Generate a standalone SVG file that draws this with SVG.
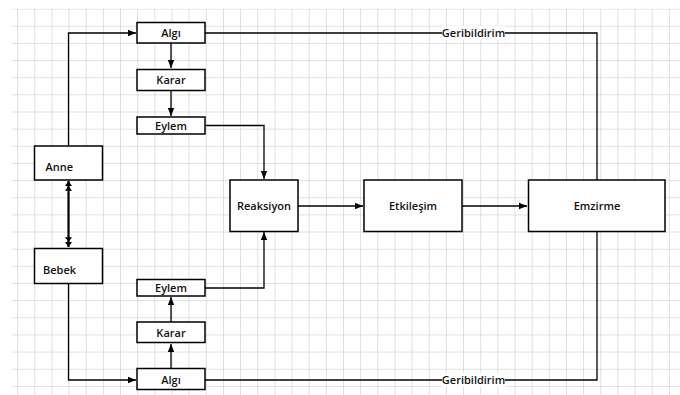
<svg xmlns="http://www.w3.org/2000/svg" width="680" height="395" viewBox="0 0 680 395">
<defs>
<pattern id="grid" x="0" y="8.6" width="17.15" height="17.15" patternUnits="userSpaceOnUse">
<path d="M 0 0 H 17.15 M 0 0 V 17.15" fill="none" stroke="#c2c2c2" stroke-width="1"/>
</pattern>
<marker id="arr" viewBox="0 0 10 10" refX="10" refY="5" markerWidth="8" markerHeight="8" markerUnits="userSpaceOnUse" orient="auto">
<path d="M0,1 L10,5 L0,9 z" fill="#000"/>
</marker>
<marker id="dbl" viewBox="0 0 14 10" refX="14" refY="5" markerWidth="10" markerHeight="7" markerUnits="userSpaceOnUse" orient="auto-start-reverse">
<path d="M0,0 L7,5 L0,10 z M7,0 L14,5 L7,10 z" fill="#000"/>
</marker>
</defs>
<style>
.box{fill:#fff;stroke:#000;stroke-width:1.5}
.c{fill:none;stroke:#000;stroke-width:1.3}
.t{font-family:"Open Sans","Liberation Sans",sans-serif;font-size:11px;font-weight:600;fill:#111}
.m{text-anchor:middle}
</style>
<rect x="0" y="0" width="680" height="395" fill="#fff"/>
<rect x="12" y="8.6" width="668" height="387" fill="url(#grid)"/>

<g id="connectors">
<path class="c" d="M68.5,146 V33 H136" marker-end="url(#arr)"/>
<path class="c" d="M171,43 V68" marker-end="url(#arr)"/>
<path class="c" d="M171,91 V116" marker-end="url(#arr)"/>
<path class="c" d="M205,125.5 H264 V179" marker-end="url(#arr)"/>
<path class="c" d="M205,33 H597 V180"/>
<path d="M68.5,181 V247" fill="none" stroke="#000" stroke-width="2.2" marker-start="url(#dbl)" marker-end="url(#dbl)"/>
<path class="c" d="M68.5,283 V380 H136" marker-end="url(#arr)"/>
<path class="c" d="M171,368 V344" marker-end="url(#arr)"/>
<path class="c" d="M171,322 V297" marker-end="url(#arr)"/>
<path class="c" d="M205,288 H264 V232" marker-end="url(#arr)"/>
<path class="c" d="M205,380 H597 V231"/>
<path class="c" d="M298,206 H363" marker-end="url(#arr)"/>
<path class="c" d="M462,206 H527" marker-end="url(#arr)"/>
<rect x="442" y="26" width="63" height="14" fill="#fff"/>
<text class="t m" x="473.5" y="37">Geribildirim</text>
<rect x="442" y="373" width="63" height="14" fill="#fff"/>
<text class="t m" x="473.5" y="384">Geribildirim</text>
</g>

<g id="algi-top"><rect class="box" x="137" y="22.5" width="68" height="20.5"/><text class="t m" x="171" y="37">Algı</text></g>
<g id="karar-top"><rect class="box" x="137" y="69.5" width="68" height="21"/><text class="t m" x="171" y="84">Karar</text></g>
<g id="eylem-top"><rect class="box" x="137" y="117" width="68" height="17"/><text class="t m" x="171" y="129.5">Eylem</text></g>
<g id="anne"><rect class="box" x="34.5" y="146" width="68" height="34"/><text class="t" x="45.5" y="171">Anne</text></g>
<g id="bebek"><rect class="box" x="34.5" y="248.5" width="68" height="35"/><text class="t" x="43" y="274">Bebek</text></g>
<g id="reaksiyon"><rect class="box" x="230" y="180" width="68" height="51.5"/><text class="t m" x="264" y="210">Reaksiyon</text></g>
<g id="etkilesim"><rect class="box" x="364" y="180" width="98" height="51.5"/><text class="t m" x="413" y="210">Etkileşim</text></g>
<g id="emzirme"><rect class="box" x="528.5" y="180" width="136.5" height="51.5"/><text class="t m" x="597" y="210">Emzirme</text></g>
<g id="eylem-bottom"><rect class="box" x="137" y="279.5" width="68" height="16.5"/><text class="t m" x="171" y="292">Eylem</text></g>
<g id="karar-bottom"><rect class="box" x="137" y="322" width="68" height="20.5"/><text class="t m" x="171" y="336.5">Karar</text></g>
<g id="algi-bottom"><rect class="box" x="137" y="368.5" width="68" height="21"/><text class="t m" x="171" y="383.5">Algı</text></g>
</svg>
